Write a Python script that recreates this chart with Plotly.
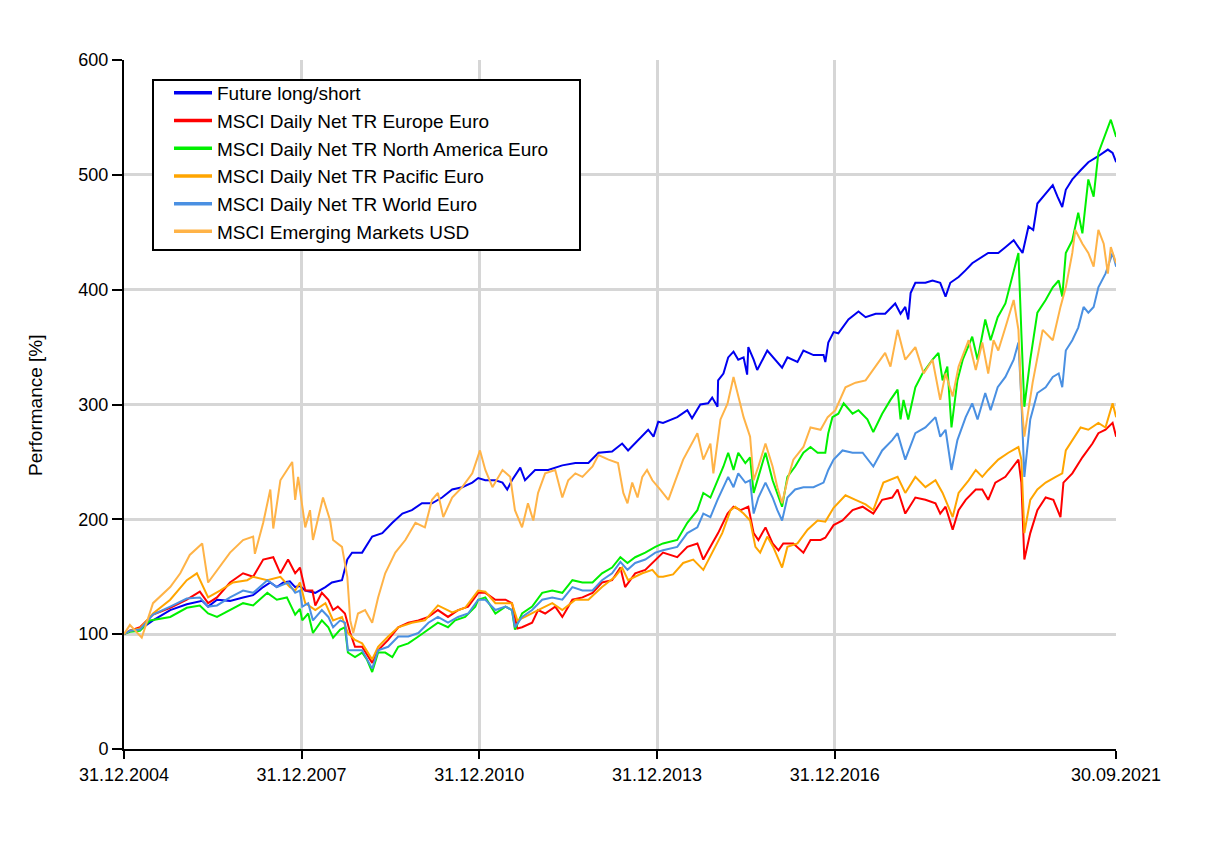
import numpy as np
import pandas as pd
import plotly.graph_objects as go

# ---------------- data (decimal years, performance in %) ----------------
future_t = [2005.00, 2005.10, 2005.27, 2005.49, 2005.78, 2006.06, 2006.32, 2006.42, 2006.57, 2006.79,
            2007.01, 2007.18, 2007.35, 2007.47, 2007.58, 2007.69, 2007.80, 2007.89, 2007.97, 2008.06,
            2008.23, 2008.40, 2008.51, 2008.68, 2008.77, 2008.85, 2009.02, 2009.19, 2009.36, 2009.53,
            2009.70, 2009.86, 2010.03, 2010.20, 2010.37, 2010.54, 2010.71, 2010.88, 2010.98, 2011.10,
            2011.27, 2011.39, 2011.47, 2011.55, 2011.69, 2011.77, 2011.94, 2012.16, 2012.40, 2012.62,
            2012.84, 2013.01, 2013.24, 2013.41, 2013.51, 2013.68, 2013.85, 2013.94, 2014.02, 2014.10,
            2014.34, 2014.51, 2014.59, 2014.73, 2014.86, 2014.93, 2015.02, 2015.03, 2015.12, 2015.20,
            2015.29, 2015.37, 2015.46, 2015.52, 2015.54, 2015.63, 2015.69, 2015.86, 2015.96, 2016.11,
            2016.20, 2016.37, 2016.47, 2016.64, 2016.81, 2016.84, 2016.89, 2016.98, 2017.06, 2017.23,
            2017.40, 2017.52, 2017.69, 2017.85, 2018.02, 2018.11, 2018.19, 2018.24, 2018.28, 2018.36,
            2018.53, 2018.65, 2018.78, 2018.87, 2018.95, 2019.09, 2019.21, 2019.32, 2019.59, 2019.76,
            2019.88, 2020.02, 2020.10, 2020.17, 2020.27, 2020.35, 2020.42, 2020.56, 2020.68, 2020.76,
            2020.84, 2020.90, 2021.01, 2021.15, 2021.28, 2021.44, 2021.52, 2021.61, 2021.69, 2021.75]
future_v = [100, 103, 104, 112, 121, 126, 129, 124, 130, 129,
            132, 134, 141, 145, 141, 145, 146, 141, 142, 138,
            136, 141, 145, 147, 165, 171, 171, 185, 188, 197,
            205, 208, 214, 214, 219, 226, 228, 232, 236, 234,
            234, 232, 226, 234, 245, 234, 243, 243, 247, 249,
            249, 258, 259, 266, 260, 269, 278, 272, 285, 284,
            289, 295, 288, 300, 301, 306, 298, 321, 327, 341,
            346, 339, 341, 326, 350, 339, 330, 347, 341, 332,
            341, 337, 347, 343, 343, 337, 354, 363, 362, 374,
            381, 376, 379, 379, 388, 379, 385, 374, 397, 406,
            406, 408, 406, 394, 406, 411, 417, 423, 432, 432,
            437, 443, 437, 432, 455, 452, 475, 484, 491, 481,
            472, 487, 496, 504, 511, 516, 519, 522, 519, 511]

europe_t = [2005.00, 2005.10, 2005.27, 2005.49, 2005.78, 2006.06, 2006.28, 2006.42, 2006.57, 2006.79,
            2007.01, 2007.18, 2007.35, 2007.52, 2007.64, 2007.77, 2007.89, 2007.97, 2008.06, 2008.18,
            2008.23, 2008.34, 2008.45, 2008.53, 2008.61, 2008.73, 2008.82, 2008.90, 2009.02, 2009.19,
            2009.29, 2009.46, 2009.63, 2009.80, 2009.97, 2010.14, 2010.30, 2010.47, 2010.64, 2010.81,
            2010.98, 2011.10, 2011.27, 2011.44, 2011.55, 2011.64, 2011.72, 2011.89, 2011.99, 2012.11,
            2012.28, 2012.40, 2012.57, 2012.74, 2012.91, 2013.07, 2013.24, 2013.38, 2013.46, 2013.63,
            2013.80, 2013.97, 2014.10, 2014.34, 2014.51, 2014.68, 2014.78, 2014.93, 2015.03, 2015.19,
            2015.29, 2015.41, 2015.54, 2015.63, 2015.71, 2015.83, 2015.95, 2016.05, 2016.13, 2016.30,
            2016.47, 2016.59, 2016.76, 2016.84, 2016.98, 2017.13, 2017.30, 2017.47, 2017.65, 2017.80,
            2017.97, 2018.06, 2018.19, 2018.36, 2018.53, 2018.70, 2018.78, 2018.87, 2018.99, 2019.09,
            2019.21, 2019.38, 2019.49, 2019.59, 2019.71, 2019.88, 2020.02, 2020.10, 2020.15, 2020.20,
            2020.30, 2020.42, 2020.56, 2020.69, 2020.81, 2020.86, 2021.01, 2021.18, 2021.35, 2021.45,
            2021.57, 2021.69, 2021.75]
europe_v = [100, 103, 106, 117, 123, 130, 137, 127, 132, 145,
            153, 150, 165, 167, 153, 165, 153, 158, 138, 138,
            125, 136, 130, 121, 124, 118, 101, 89, 89, 75,
            86, 95, 106, 110, 112, 115, 121, 115, 121, 124,
            136, 136, 130, 130, 127, 105, 106, 110, 121, 118,
            124, 115, 130, 132, 136, 145, 147, 158, 141, 153,
            156, 165, 171, 167, 176, 179, 165, 179, 188, 205,
            211, 208, 211, 188, 182, 193, 179, 173, 179, 179,
            171, 182, 182, 184, 195, 199, 208, 211, 205, 217,
            219, 226, 205, 219, 217, 214, 205, 211, 191, 208,
            217, 226, 226, 217, 232, 237, 246, 252, 232, 165,
            188, 208, 219, 217, 202, 232, 240, 254, 266, 275,
            278, 284, 272]

namerica_t = [2005.00, 2005.10, 2005.27, 2005.44, 2005.78, 2006.06, 2006.28, 2006.42, 2006.57, 2006.79,
              2007.01, 2007.18, 2007.42, 2007.58, 2007.75, 2007.89, 2007.97, 2008.01, 2008.11, 2008.19,
              2008.34, 2008.45, 2008.53, 2008.65, 2008.73, 2008.78, 2008.90, 2009.02, 2009.10, 2009.19,
              2009.29, 2009.41, 2009.53, 2009.63, 2009.80, 2009.97, 2010.14, 2010.30, 2010.47, 2010.59,
              2010.76, 2010.93, 2010.98, 2011.10, 2011.27, 2011.44, 2011.55, 2011.60, 2011.72, 2011.89,
              2012.06, 2012.23, 2012.40, 2012.57, 2012.74, 2012.91, 2013.07, 2013.24, 2013.38, 2013.50,
              2013.63, 2013.80, 2013.97, 2014.10, 2014.34, 2014.51, 2014.68, 2014.78, 2014.90, 2015.02,
              2015.12, 2015.20, 2015.29, 2015.37, 2015.49, 2015.57, 2015.63, 2015.71, 2015.83, 2015.95,
              2016.03, 2016.11, 2016.20, 2016.33, 2016.47, 2016.59, 2016.71, 2016.84, 2016.89, 2016.96,
              2017.06, 2017.15, 2017.30, 2017.40, 2017.55, 2017.65, 2017.80, 2017.94, 2018.06, 2018.11,
              2018.16, 2018.24, 2018.36, 2018.48, 2018.65, 2018.75, 2018.82, 2018.90, 2018.97, 2019.07,
              2019.16, 2019.32, 2019.41, 2019.54, 2019.63, 2019.75, 2019.88, 2020.00, 2020.10, 2020.15,
              2020.20, 2020.30, 2020.42, 2020.56, 2020.68, 2020.78, 2020.84, 2020.90, 2021.01, 2021.11,
              2021.18, 2021.28, 2021.37, 2021.45, 2021.57, 2021.66, 2021.75]
namerica_v = [100, 102, 103, 112, 115, 123, 125, 118, 115, 121,
              127, 125, 136, 130, 132, 117, 122, 112, 118, 101,
              112, 106, 97, 104, 106, 84, 80, 84, 78, 67,
              84, 84, 80, 89, 92, 98, 104, 110, 106, 112,
              115, 124, 130, 132, 118, 124, 121, 104, 118, 124,
              136, 138, 136, 147, 145, 145, 153, 158, 167, 162,
              167, 171, 176, 179, 182, 197, 208, 223, 219, 234,
              246, 258, 243, 258, 249, 254, 223, 237, 258, 234,
              223, 211, 237, 246, 258, 263, 258, 258, 275, 289,
              292, 301, 292, 295, 287, 276, 292, 304, 313, 287,
              304, 287, 315, 327, 339, 345, 321, 333, 280, 321,
              339, 359, 339, 374, 356, 376, 388, 411, 432, 362,
              298, 339, 380, 391, 402, 408, 394, 432, 443, 467,
              449, 496, 481, 519, 536, 548, 533]

pacific_t = [2005.00, 2005.10, 2005.27, 2005.49, 2005.78, 2006.06, 2006.23, 2006.42, 2006.62, 2006.84,
             2007.08, 2007.18, 2007.42, 2007.64, 2007.80, 2007.89, 2007.97, 2008.06, 2008.23, 2008.40,
             2008.53, 2008.68, 2008.78, 2008.90, 2009.02, 2009.19, 2009.29, 2009.46, 2009.63, 2009.86,
             2010.08, 2010.30, 2010.54, 2010.76, 2010.98, 2011.10, 2011.27, 2011.55, 2011.64, 2011.77,
             2011.99, 2012.23, 2012.40, 2012.62, 2012.84, 2013.07, 2013.29, 2013.41, 2013.51, 2013.75,
             2013.92, 2014.02, 2014.10, 2014.27, 2014.44, 2014.61, 2014.78, 2014.95, 2015.10, 2015.24,
             2015.32, 2015.46, 2015.57, 2015.66, 2015.74, 2015.86, 2015.96, 2016.11, 2016.20, 2016.37,
             2016.54, 2016.71, 2016.84, 2016.98, 2017.18, 2017.35, 2017.52, 2017.65, 2017.82, 2018.06,
             2018.19, 2018.36, 2018.53, 2018.70, 2018.82, 2018.99, 2019.09, 2019.26, 2019.38, 2019.49,
             2019.59, 2019.76, 2019.93, 2020.10, 2020.15, 2020.20, 2020.30, 2020.42, 2020.56, 2020.73,
             2020.84, 2020.90, 2021.01, 2021.15, 2021.28, 2021.45, 2021.57, 2021.69, 2021.75]
pacific_v = [100, 103, 105, 118, 130, 147, 153, 132, 138, 145,
             147, 150, 147, 150, 141, 138, 145, 127, 121, 127,
             112, 115, 101, 95, 92, 78, 89, 98, 106, 110,
             112, 125, 119, 123, 138, 137, 127, 127, 112, 115,
             121, 127, 121, 130, 130, 141, 150, 158, 147, 153,
             156, 150, 150, 152, 162, 165, 156, 173, 188, 208,
             211, 205, 199, 176, 171, 185, 176, 158, 176, 179,
             191, 199, 198, 210, 221, 217, 213, 208, 232, 237,
             223, 237, 228, 234, 223, 202, 223, 234, 243, 237,
             243, 252, 258, 263, 252, 188, 217, 226, 232, 237,
             240, 260, 269, 280, 278, 284, 280, 301, 289]

world_t = [2005.00, 2005.10, 2005.27, 2005.49, 2005.78, 2006.06, 2006.28, 2006.42, 2006.57, 2006.79,
           2007.01, 2007.18, 2007.42, 2007.58, 2007.77, 2007.89, 2007.97, 2008.01, 2008.11, 2008.19,
           2008.34, 2008.45, 2008.53, 2008.65, 2008.73, 2008.78, 2008.90, 2009.02, 2009.19, 2009.29,
           2009.46, 2009.63, 2009.80, 2009.97, 2010.14, 2010.30, 2010.47, 2010.64, 2010.81, 2010.98,
           2011.10, 2011.27, 2011.44, 2011.55, 2011.60, 2011.72, 2011.89, 2012.06, 2012.23, 2012.40,
           2012.57, 2012.74, 2012.91, 2013.07, 2013.24, 2013.38, 2013.50, 2013.63, 2013.80, 2013.97,
           2014.10, 2014.34, 2014.51, 2014.68, 2014.78, 2014.90, 2015.02, 2015.12, 2015.20, 2015.29,
           2015.37, 2015.49, 2015.57, 2015.63, 2015.71, 2015.83, 2015.95, 2016.03, 2016.11, 2016.20,
           2016.33, 2016.47, 2016.64, 2016.81, 2016.89, 2016.98, 2017.13, 2017.30, 2017.47, 2017.65,
           2017.80, 2017.97, 2018.06, 2018.19, 2018.36, 2018.53, 2018.70, 2018.78, 2018.87, 2018.97,
           2019.07, 2019.21, 2019.32, 2019.41, 2019.54, 2019.63, 2019.75, 2019.88, 2020.02, 2020.10,
           2020.15, 2020.20, 2020.30, 2020.42, 2020.56, 2020.68, 2020.78, 2020.84, 2020.90, 2021.01,
           2021.11, 2021.20, 2021.28, 2021.37, 2021.45, 2021.57, 2021.69, 2021.75]
world_v = [100, 103, 104, 117, 124, 131, 132, 124, 125, 132,
           138, 136, 147, 141, 145, 136, 138, 124, 127, 112,
           121, 115, 106, 112, 110, 86, 86, 86, 70, 86,
           89, 98, 98, 101, 110, 115, 110, 115, 118, 130,
           130, 121, 124, 121, 106, 115, 121, 130, 132, 130,
           141, 138, 138, 147, 153, 163, 156, 162, 165, 171,
           173, 176, 188, 193, 205, 202, 217, 228, 237, 228,
           240, 232, 234, 205, 219, 232, 219, 208, 199, 219,
           226, 228, 228, 232, 243, 252, 260, 258, 258, 246,
           260, 269, 275, 252, 275, 280, 289, 272, 278, 243,
           269, 289, 301, 287, 310, 295, 315, 324, 339, 354,
           304, 237, 287, 310, 315, 324, 327, 315, 347, 356,
           367, 385, 380, 385, 402, 414, 432, 420]

emerging_t = [2005.00, 2005.10, 2005.30, 2005.49, 2005.78, 2005.95, 2006.11, 2006.32, 2006.42, 2006.57,
              2006.79, 2007.01, 2007.18, 2007.21, 2007.35, 2007.47, 2007.52, 2007.64, 2007.84, 2007.89,
              2007.94, 2008.06, 2008.14, 2008.19, 2008.36, 2008.48, 2008.53, 2008.68, 2008.77, 2008.82,
              2008.87, 2008.95, 2009.07, 2009.19, 2009.29, 2009.41, 2009.58, 2009.75, 2009.92, 2010.08,
              2010.20, 2010.30, 2010.39, 2010.54, 2010.71, 2010.88, 2011.01, 2011.10, 2011.22, 2011.39,
              2011.52, 2011.60, 2011.72, 2011.82, 2011.91, 2011.99, 2012.11, 2012.28, 2012.40, 2012.50,
              2012.62, 2012.74, 2012.91, 2013.01, 2013.18, 2013.34, 2013.43, 2013.50, 2013.58, 2013.67,
              2013.75, 2013.83, 2013.92, 2014.05, 2014.19, 2014.31, 2014.44, 2014.68, 2014.78, 2014.90,
              2014.95, 2015.07, 2015.19, 2015.29, 2015.37, 2015.46, 2015.57, 2015.63, 2015.71, 2015.83,
              2015.95, 2016.03, 2016.11, 2016.20, 2016.30, 2016.47, 2016.59, 2016.76, 2016.88, 2017.01,
              2017.18, 2017.35, 2017.52, 2017.69, 2017.85, 2017.94, 2018.06, 2018.19, 2018.36, 2018.50,
              2018.65, 2018.78, 2018.87, 2018.99, 2019.09, 2019.26, 2019.38, 2019.49, 2019.59, 2019.68,
              2019.76, 2019.88, 2020.02, 2020.10, 2020.15, 2020.20, 2020.34, 2020.51, 2020.68, 2020.81,
              2020.90, 2021.01, 2021.06, 2021.18, 2021.28, 2021.37, 2021.45, 2021.54, 2021.61, 2021.66,
              2021.75]
emerging_v = [100, 108, 97, 127, 141, 153, 169, 179, 145, 156,
              171, 182, 185, 170, 197, 226, 192, 234, 250, 217,
              237, 193, 208, 182, 219, 199, 182, 176, 150, 112,
              101, 118, 121, 110, 132, 153, 171, 182, 197, 193,
              217, 223, 202, 219, 228, 240, 260, 243, 228, 243,
              237, 208, 193, 214, 199, 223, 240, 243, 219, 234,
              240, 237, 246, 256, 252, 249, 223, 214, 232, 219,
              237, 243, 234, 226, 217, 234, 252, 275, 252, 266,
              240, 287, 301, 324, 307, 289, 272, 234, 246, 266,
              246, 228, 214, 234, 252, 263, 280, 278, 289, 295,
              315, 319, 321, 333, 345, 333, 365, 339, 350, 327,
              339, 304, 327, 307, 333, 356, 330, 354, 327, 356,
              347, 367, 391, 365, 304, 272, 319, 365, 356, 385,
              402, 432, 452, 440, 432, 420, 452, 440, 414, 437,
              423]

names = ["Future long/short",
         "MSCI Daily Net TR Europe Euro",
         "MSCI Daily Net TR North America Euro",
         "MSCI Daily Net TR Pacific Euro",
         "MSCI Daily Net TR World Euro",
         "MSCI Emerging Markets USD"]
colors = ["#0000f0", "#ff0000", "#00f000", "#ffa500", "#4a90e2", "#ffb347"]

tick_dates = ["2004-12-31", "2007-12-31", "2010-12-31", "2013-12-31", "2016-12-31", "2021-09-30"]
tick_text = ["31.12.2004", "31.12.2007", "31.12.2010", "31.12.2013", "31.12.2016", "30.09.2021"]
y_ticks = [0, 100, 200, 300, 400, 500, 600]

BASE = pd.Timestamp("2004-12-31")


def to_dates(years):
    off = (np.asarray(years, dtype=float) - 2005.0) * 365.25
    return BASE + pd.to_timedelta(off, unit="D")


series = [(future_t, future_v), (europe_t, europe_v), (namerica_t, namerica_v),
          (pacific_t, pacific_v), (world_t, world_v), (emerging_t, emerging_v)]

FONT = "Liberation Sans, Arial, Helvetica, sans-serif"

fig = go.Figure()
for (t, v), name, col in zip(series, names, colors):
    fig.add_trace(go.Scatter(x=to_dates(t), y=v, mode="lines", name=name,
                             line=dict(color=col, width=2), showlegend=False,
                             legendgroup=name, hoverinfo="skip"))
# legend entries (thicker sample lines, as in the reference)
for name, col in zip(names, colors):
    fig.add_trace(go.Scatter(x=[None], y=[None], mode="lines", name=name,
                             line=dict(color=col, width=3.5), legendgroup=name))

# page offset of the plot div (body margin) is 8 px
OFF = 8
W, H = 1211, 849
L, T = 124 - OFF, 60 - OFF
pw, ph = 992, 689
R, B = W - L - pw, H - T - ph


def px(xp):
    """page x -> paper x"""
    return (xp - OFF - L) / pw


def py(yp):
    """page y -> paper y"""
    return (T + ph - (yp - OFF)) / ph


fig.update_layout(
    width=W, height=H,
    margin=dict(l=L, r=R, t=T, b=B, autoexpand=False),
    paper_bgcolor="white",
    plot_bgcolor="white",
    font=dict(family=FONT, size=18, color="black"),
    showlegend=True,
    legend=dict(x=px(169), y=py(74), xanchor="left", yanchor="top",
                bgcolor="rgba(0,0,0,0)", borderwidth=0, itemwidth=38,
                font=dict(family=FONT, size=19, color="black"),
                tracegroupgap=0, itemclick=False, itemdoubleclick=False),
    xaxis=dict(type="date", range=["2004-12-31", "2021-09-30"],
               tickvals=tick_dates, ticktext=tick_text,
               showgrid=True, gridcolor="#d6d6d6", gridwidth=3,
               showline=True, linecolor="black", linewidth=2,
               ticks="outside", ticklen=8, tickwidth=2, tickcolor="black",
               tickfont=dict(family=FONT, size=18, color="black"),
               zeroline=False, fixedrange=True),
    yaxis=dict(range=[0, 600], tickvals=y_ticks,
               showgrid=True, gridcolor="#d6d6d6", gridwidth=3,
               showline=True, linecolor="black", linewidth=2,
               ticks="outside", ticklen=10, tickwidth=2, tickcolor="black",
               tickfont=dict(family=FONT, size=18, color="black"),
               zeroline=False, fixedrange=True),
    shapes=[
        # reference line at 100 %
        dict(type="line", xref="paper", yref="y", x0=0, x1=1, y0=100, y1=100,
             line=dict(color="black", width=2), layer="below"),
        # legend frame
        dict(type="rect", xref="paper", yref="paper", x0=px(153), x1=px(580),
             y0=py(250), y1=py(80), fillcolor="white",
             line=dict(color="black", width=2), layer="above"),
    ],
    annotations=[
        dict(text="Performance [%]", xref="paper", yref="paper", x=px(35), y=py(405),
             textangle=-90, showarrow=False, xanchor="center", yanchor="middle",
             font=dict(family=FONT, size=19, color="black")),
    ],
)

fig.write_html("out.html")
